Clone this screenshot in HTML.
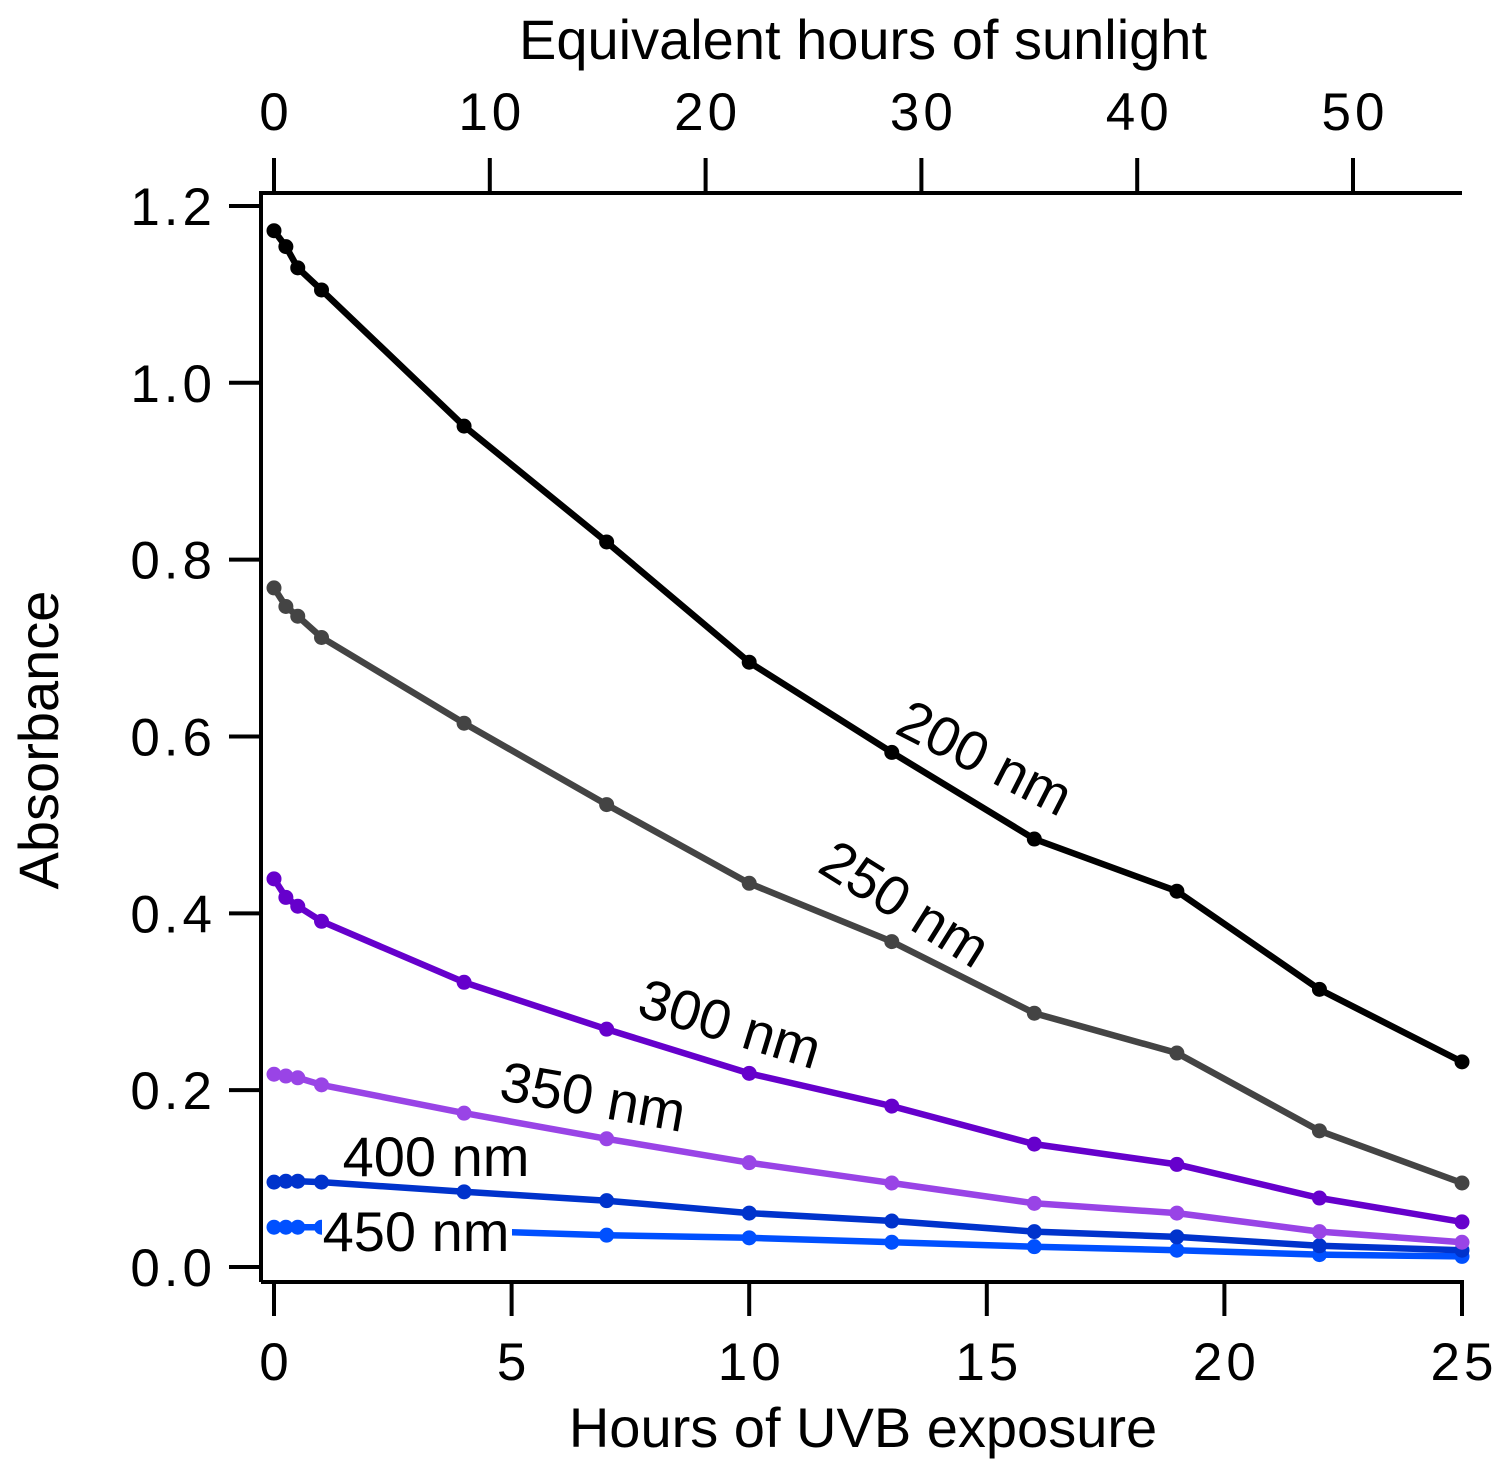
<!DOCTYPE html>
<html><head><meta charset="utf-8"><style>
html,body{margin:0;padding:0;background:#fff}
svg{display:block;font-family:"Liberation Sans",Arial,sans-serif}
</style></head><body>
<svg id="chart" width="1509" height="1475" viewBox="0 0 1509 1475" xmlns="http://www.w3.org/2000/svg">
<g id="axes"></g><g id="series"></g><g id="labels"></g>
</svg>
<script>
const hours = [0, 0.25, 0.5, 1, 4, 7, 10, 13, 16, 19, 22, 25];
const a200 = [1.172, 1.154, 1.130, 1.105, 0.951, 0.820, 0.684, 0.582, 0.484, 0.425, 0.314, 0.232];
const a250 = [0.768, 0.747, 0.736, 0.712, 0.615, 0.523, 0.434, 0.368, 0.287, 0.242, 0.154, 0.095];
const a300 = [0.439, 0.418, 0.408, 0.391, 0.322, 0.269, 0.219, 0.182, 0.139, 0.116, 0.078, 0.051];
const a350 = [0.218, 0.216, 0.214, 0.206, 0.174, 0.145, 0.118, 0.095, 0.072, 0.061, 0.040, 0.028];
const a400 = [0.096, 0.097, 0.097, 0.096, 0.085, 0.075, 0.061, 0.052, 0.040, 0.034, 0.024, 0.019];
const a450 = [0.045, 0.045, 0.045, 0.045, 0.041, 0.036, 0.033, 0.028, 0.023, 0.019, 0.014, 0.012];
const bottomTicks = [0, 5, 10, 15, 20, 25];
const topTicks = [0, 10, 20, 30, 40, 50];
const yTicks = [0.0, 0.2, 0.4, 0.6, 0.8, 1.0, 1.2];

const NS = "http://www.w3.org/2000/svg";
const X = h => 274 + h * 47.52;
const XT = s => 274 + s * 21.58;
const Y = v => 1267 - v * 884.2;
function mk(tag, attrs, parent, text) {
  const e = document.createElementNS(NS, tag);
  for (const k in attrs) e.setAttribute(k, attrs[k]);
  if (text !== undefined) e.textContent = text;
  parent.appendChild(e);
  return e;
}
const axes = document.getElementById('axes');
const ser = document.getElementById('series');
const lab = document.getElementById('labels');
const sw = {stroke: '#000', 'stroke-width': 4, fill: 'none'};
const tk = {'font-size': 53, 'letter-spacing': 4};

let e = mk('path', Object.assign({d: 'M261,1282 V193 H1462'}, sw), axes);


e = mk('line', Object.assign({x1: 261, x2: 1464, y1: 1282, y2: 1282}, sw), axes);



yTicks.forEach(v => {
  const t = mk('line', Object.assign({x1: 229, x2: 261, y1: Y(v), y2: Y(v)}, sw), axes);
  
  
  const l = mk('text', Object.assign({x: 216, y: Y(v) + 19, 'text-anchor': 'end'}, tk), axes, v.toFixed(1));
  
  
});
bottomTicks.forEach(v => {
  const t = mk('line', Object.assign({x1: X(v), x2: X(v), y1: 1282, y2: 1316}, sw), axes);
  
  
  const l = mk('text', Object.assign({x: X(v) + 2, y: 1380, 'text-anchor': 'middle'}, tk), axes, String(v));
  
  
});
topTicks.forEach(v => {
  const t = mk('line', Object.assign({x1: XT(v), x2: XT(v), y1: 158, y2: 193}, sw), axes);
  
  
  const l = mk('text', Object.assign({x: XT(v) + 2, y: 130, 'text-anchor': 'middle'}, tk), axes, String(v));
  
  
});
e = mk('text', {x: 863, y: 1447, 'text-anchor': 'middle', 'font-size': 56}, axes, 'Hours of UVB exposure');


e = mk('text', {x: 863, y: 59, 'text-anchor': 'middle', 'font-size': 56}, axes, 'Equivalent hours of sunlight');


e = mk('text', {x: 0, y: 0, 'text-anchor': 'middle', 'font-size': 56, transform: 'translate(58,740) rotate(-90)'}, axes, 'Absorbance');



const series = [
  {vals: a200, color: '#000000', name: '200'},
  {vals: a250, color: '#444444', name: '250'},
  {vals: a300, color: '#6600cc', name: '300'},
  {vals: a350, color: '#9944e6', name: '350'},
  {vals: a400, color: '#0033cc', name: '400'},
  {vals: a450, color: '#0050ff', name: '450'}
];
series.slice().reverse().forEach(s => {
  const g = mk('g', {}, ser);
  
  
  const d = s.vals.map((v, i) => (i ? 'L' : 'M') + X(hours[i]).toFixed(1) + ',' + Y(v).toFixed(1)).join(' ');
  const p = mk('path', {d: d, stroke: s.color, 'stroke-width': 6.5, fill: 'none', 'stroke-linejoin': 'round'}, g);
  
  
  s.vals.forEach((v, i) => {
    const c = mk('circle', {cx: X(hours[i]), cy: Y(v), r: 7.5, fill: s.color}, g);
    
    
  });
});

const labels = [
  {t: '200 nm', x: 985, y: 777, r: 27},
  {t: '250 nm', x: 905, y: 923, r: 32},
  {t: '300 nm', x: 730, y: 1043, r: 17},
  {t: '350 nm', x: 593, y: 1116, r: 10},
  {t: '400 nm', x: 436, y: 1176, r: 0, bg: false},
  {t: '450 nm', x: 416, y: 1251, r: 0, bg: true}
];
labels.forEach(L => {
  if (L.bg) {
    const b = mk('rect', {x: 322, y: L.y - 42, width: 190, height: 50, fill: '#fff'}, lab);
    
    
  }
  const t = mk('text', {x: L.x, y: L.y, 'text-anchor': 'middle', 'font-size': 56, transform: `rotate(${L.r} ${L.x} ${L.y - 19})`}, lab, L.t);
  
  
});
</script>
</body></html>
